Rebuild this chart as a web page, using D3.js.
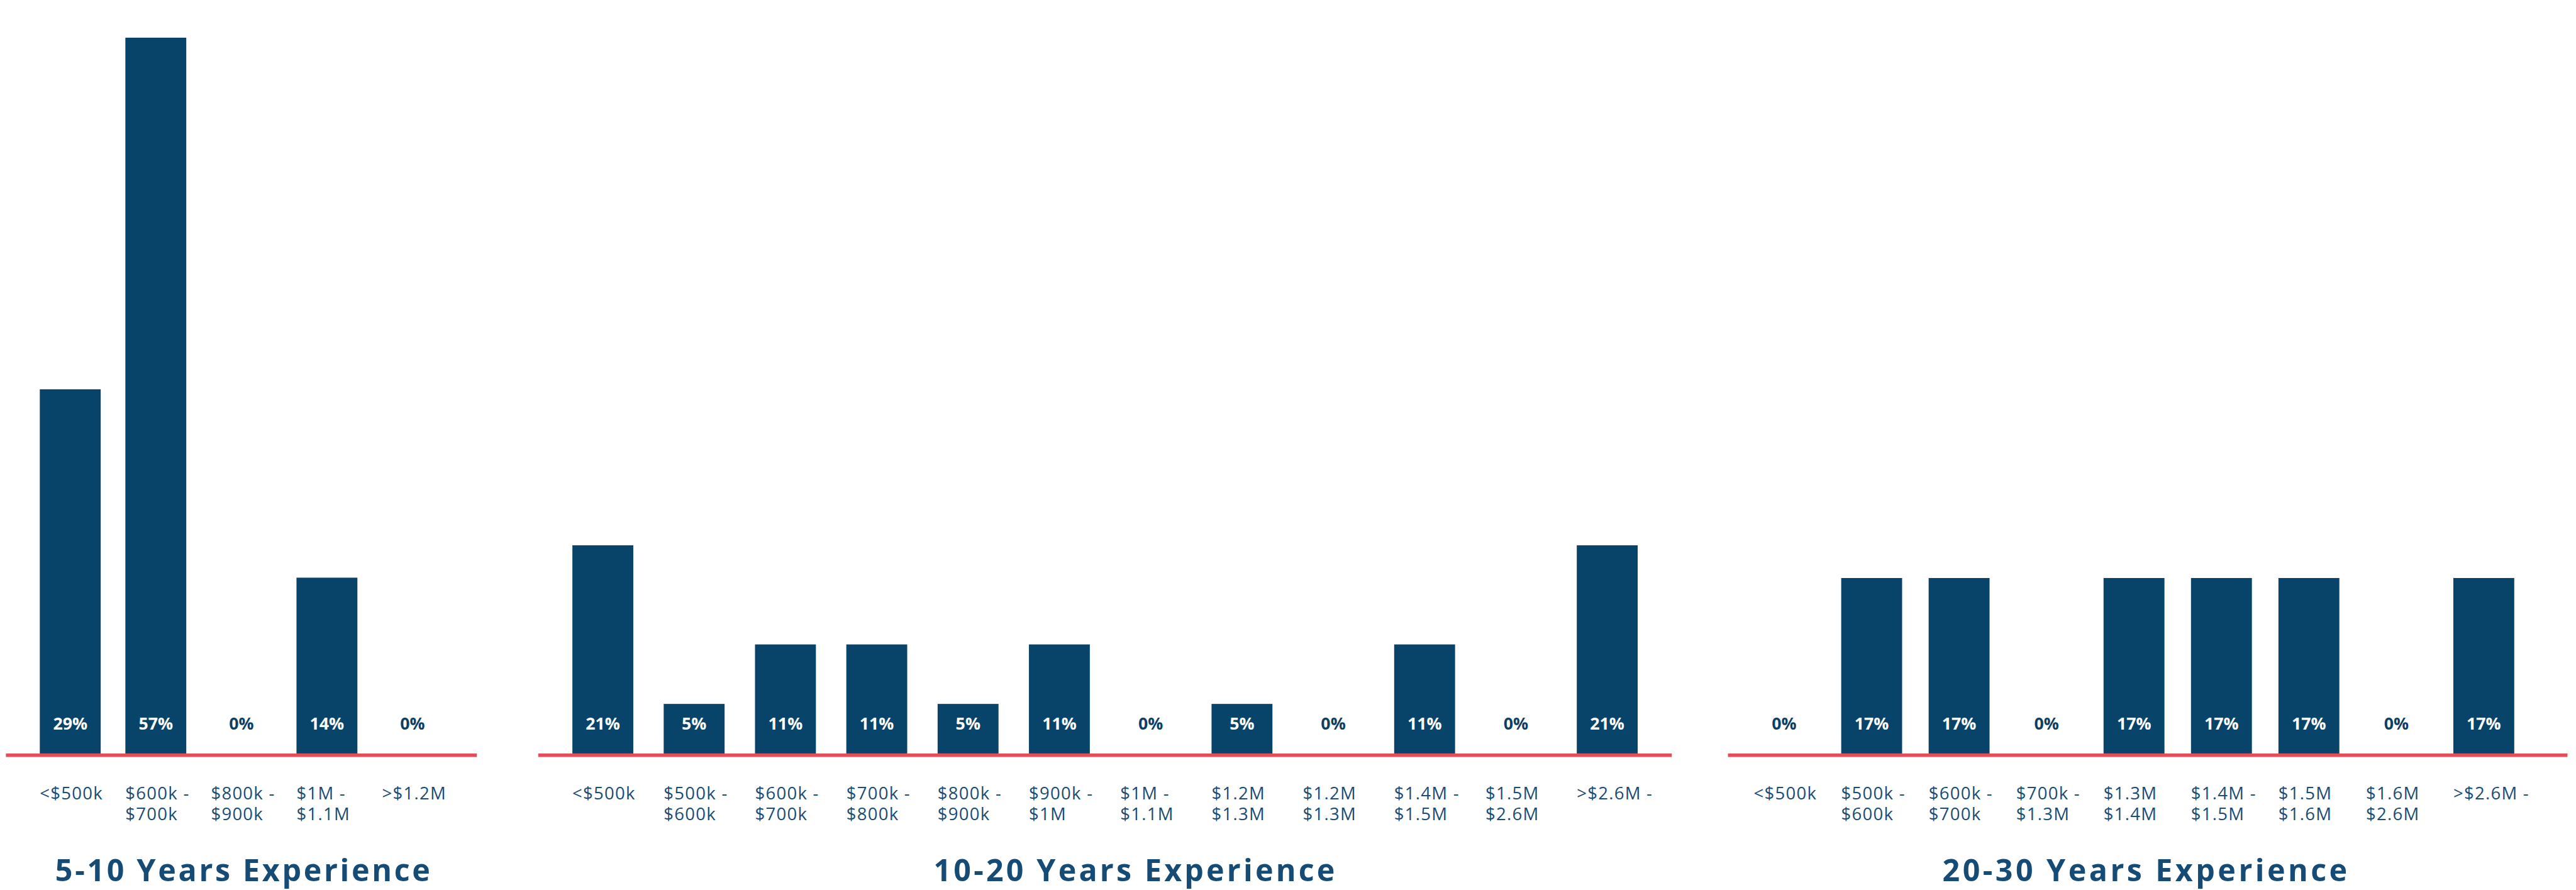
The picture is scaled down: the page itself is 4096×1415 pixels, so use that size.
<!DOCTYPE html>
<html>
<head>
<meta charset="utf-8">
<script src="https://cdn.jsdelivr.net/npm/d3@7"></script>
<style>
  html, body { margin: 0; padding: 0; background: #ffffff; }
  svg { display: block; }
</style>
</head>
<body>
<svg id="chart"></svg>
<script>
// Home price distribution by experience band

// --- 5-10 years ---
const cats510 = [["<$500k"], ["$600k -", "$700k"], ["$800k -", "$900k"], ["$1M -", "$1.1M"], [">$1.2M"]];
const vals510 = [29, 57, 0, 14, 0];

// --- 10-20 years ---
const cats1020 = [["<$500k"], ["$500k -", "$600k"], ["$600k -", "$700k"], ["$700k -", "$800k"],
  ["$800k -", "$900k"], ["$900k -", "$1M"], ["$1M -", "$1.1M"], ["$1.2M", "$1.3M"],
  ["$1.2M", "$1.3M"], ["$1.4M -", "$1.5M"], ["$1.5M", "$2.6M"], [">$2.6M -"]];
const vals1020 = [21, 5, 11, 11, 5, 11, 0, 5, 0, 11, 0, 21];

// --- 20-30 years ---
const cats2030 = [["<$500k"], ["$500k -", "$600k"], ["$600k -", "$700k"], ["$700k -", "$1.3M"],
  ["$1.3M", "$1.4M"], ["$1.4M -", "$1.5M"], ["$1.5M", "$1.6M"], ["$1.6M", "$2.6M"], [">$2.6M -"]];
const vals2030 = [0, 17, 17, 0, 17, 17, 17, 0, 17];

const titles = ["5-10 Years Experience", "10-20 Years Experience", "20-30 Years Experience"];
// upper end of each panel's value axis (percent)
const axisMax = [60, 76, 73];

// Layout, in the 4906 x 1695 design space
const W = 4906, H = 1695;
const panels = [
  { cats: cats510,  vals: vals510,  x0: 11,   x1: 908,  pad: 0.752, align: 0.5,   titleX: 462,  titleW: 714 },
  { cats: cats1020, vals: vals1020, x0: 1025, x1: 3184, pad: 0.707, align: 0.5,   titleX: 2160, titleW: 764 },
  { cats: cats2030, vals: vals2030, x0: 3291, x1: 4890, pad: 0.8,   align: 0.402, titleX: 4085, titleW: 771 }
];

const BASE = 1435;          // top of the baseline rule
const RULE_H = 6.7;
const BAR_W = 116;
const BAR_COLOR = "#08446a";
const RULE_COLOR = "#e04f5b";
const TEXT_COLOR = "#1a4c76";
const TITLE_COLOR = "#164b75";
const FONT = "'Open Sans', 'Noto Sans', sans-serif";

const svg = d3.select("#chart")
  .attr("width", 4096)
  .attr("height", 1415)
  .attr("viewBox", `0 0 ${W} ${H}`);

panels.forEach((p, pi) => {
  const g = svg.append("g");
  const keys = p.cats.map((c, i) => i);

  const x = d3.scalePoint()
    .domain(keys)
    .range([p.x0, p.x1])
    .padding(p.pad)
    .align(p.align);

  const y = d3.scaleLinear()
    .domain([0, axisMax[pi]])
    .range([BASE, 0]);

  const data = keys.map(i => ({ i, v: p.vals[i], label: p.cats[i] }));

  // bars
  g.selectAll("rect.bar")
    .data(data.filter(d => d.v > 0))
    .join("rect")
    .attr("class", "bar")
    .attr("x", d => x(d.i) - BAR_W / 2)
    .attr("y", d => y(d.v))
    .attr("width", BAR_W)
    .attr("height", d => y(0) - y(d.v))
    .attr("fill", BAR_COLOR);

  // baseline rule
  g.append("rect")
    .attr("x", p.x0)
    .attr("y", y(0))
    .attr("width", p.x1 - p.x0)
    .attr("height", RULE_H)
    .attr("fill", RULE_COLOR);

  // value labels near the foot of each bar
  g.selectAll("text.val")
    .data(data)
    .join("text")
    .attr("class", "val")
    .attr("x", d => x(d.i))
    .attr("y", 1389)
    .attr("text-anchor", "middle")
    .attr("font-family", FONT)
    .attr("font-weight", 700)
    .attr("font-size", 32)
    .attr("fill", d => d.v > 0 ? "#ffffff" : "#0d3f66")
    .text(d => d.v + "%");

  // category labels, left-aligned to the bar edge, two lines
  const cat = g.selectAll("text.cat")
    .data(data)
    .join("text")
    .attr("class", "cat")
    .attr("x", d => x(d.i) - BAR_W / 2)
    .attr("y", 1522)
    .attr("font-family", FONT)
    .attr("font-size", 33)
    .attr("letter-spacing", 1.5)
    .attr("fill", TEXT_COLOR);
  cat.selectAll("tspan")
    .data(d => d.label.map((t, li) => ({ t, li, x: x(d.i) - BAR_W / 2 })))
    .join("tspan")
    .attr("x", t => t.x)
    .attr("y", t => 1522 + t.li * 40)
    .text(t => t.t);

  // panel title
  g.append("text")
    .attr("x", p.titleX)
    .attr("y", 1678)
    .attr("text-anchor", "middle")
    .attr("font-family", FONT)
    .attr("font-weight", 700)
    .attr("font-size", 58)
    .attr("fill", TITLE_COLOR)
    .attr("textLength", p.titleW)
    .attr("lengthAdjust", "spacing")
    .text(titles[pi]);
});
</script>
</body>
</html>
